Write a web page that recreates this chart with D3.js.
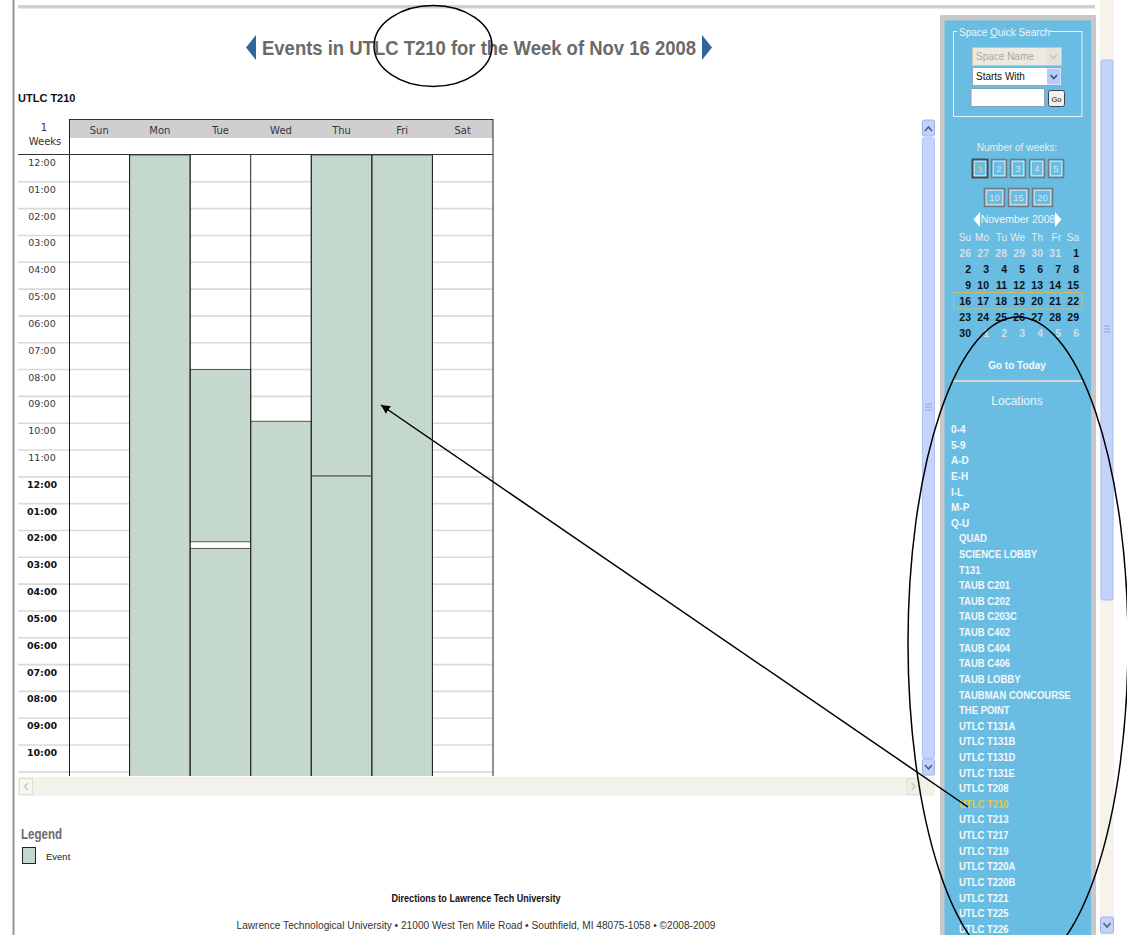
<!DOCTYPE html>
<html lang="en">
<head>
<meta charset="UTF-8">
<title>Events in UTLC T210 for the Week of Nov 16 2008</title>
<style>
  body { margin: 0; background: #fff; overflow: hidden; }
  svg { display: block; }
  text { font-family: "Liberation Sans", Arial, sans-serif; }
</style>
</head>
<body>
<div id="page"></div>
<script src="https://d3js.org/d3.v7.min.js"></script>
<script>
// week grid
const days = ["Sun", "Mon", "Tue", "Wed", "Thu", "Fri", "Sat"];
const hourLabels = ["12:00", "01:00", "02:00", "03:00", "04:00", "05:00", "06:00", "07:00",
  "08:00", "09:00", "10:00", "11:00", "12:00", "01:00", "02:00", "03:00", "04:00", "05:00",
  "06:00", "07:00", "08:00", "09:00", "10:00", "11:00"];

// booked events, hours after midnight
const eventDays   = ["Mon", "Tue", "Tue", "Wed", "Thu", "Thu", "Fri"];
const eventStarts = [0, 8, 14.67, 9.93, 0, 11.97, 0];
const eventEnds   = [24, 14.42, 24, 24, 11.97, 24, 24];

// sidebar
const weekButtons = ["1", "2", "3", "4", "5"];
const moreWeekButtons = ["10", "15", "20"];
const calDayNames = ["Su", "Mo", "Tu", "We", "Th", "Fr", "Sa"];
const prevMonthTail = [26, 27, 28, 29, 30, 31];
const monthLength = 30;
const nextMonthHead = [1, 2, 3, 4, 5, 6];
const locationGroups = ["0-4", "5-9", "A-D", "E-H", "I-L", "M-P", "Q-U"];
const locationRooms = ["QUAD", "SCIENCE LOBBY", "T131", "TAUB C201", "TAUB C202", "TAUB C203C",
  "TAUB C402", "TAUB C404", "TAUB C406", "TAUB LOBBY", "TAUBMAN CONCOURSE", "THE POINT",
  "UTLC T131A", "UTLC T131B", "UTLC T131D", "UTLC T131E", "UTLC T208", "UTLC T210",
  "UTLC T213", "UTLC T217", "UTLC T219", "UTLC T220A", "UTLC T220B", "UTLC T221",
  "UTLC T225", "UTLC T226"];
const currentRoom = "UTLC T210";

const W = 1127, H = 935;
const svg = d3.select("#page").append("svg").attr("width", W).attr("height", H);

// page frame
svg.append("line").attr("x1", 13.5).attr("x2", 13.5).attr("y1", 0).attr("y2", H)
  .attr("stroke", "#9a968a").attr("stroke-width", 2);
svg.append("rect").attr("x", 18).attr("y", 5).attr("width", 1077).attr("height", 3.5).attr("fill", "#d0d0d0");

// title
svg.append("text").attr("x", 262).attr("y", 55)
  .attr("textLength", 434).attr("lengthAdjust", "spacingAndGlyphs")
  .style("font-size", "20px").style("font-weight", "bold").attr("fill", "#6a6a6a")
  .text("Events in UTLC T210 for the Week of Nov 16 2008");
svg.append("path").attr("d", "M256,35 L246,47.5 L256,60 Z").attr("fill", "#2f679c");
svg.append("path").attr("d", "M702,35 L712,47.5 L702,60 Z").attr("fill", "#2f679c");

svg.append("text").attr("x", 18).attr("y", 102)
  .style("font-size", "11px").style("font-weight", "bold").attr("fill", "#111")
  .text("UTLC T210");

// scales
const x = d3.scaleBand().domain(days).range([69, 493]);
const y = d3.scaleLinear().domain([0, 24]).range([155, 155 + 24 * 26.82]);

// header
svg.append("rect").attr("x", 69).attr("y", 119).attr("width", 424).attr("height", 19).attr("fill", "#cfcfcf");
svg.append("line").attr("x1", 69).attr("x2", 493).attr("y1", 119.5).attr("y2", 119.5).attr("stroke", "#333");
svg.selectAll(".dayname").data(days).enter().append("text")
  .attr("x", d => x(d) + x.bandwidth() / 2).attr("y", 134)
  .attr("text-anchor", "middle").style("font-family", "DejaVu Sans").style("font-size", "10px")
  .attr("fill", "#3a3440").text(d => d);
svg.append("text").attr("x", 44).attr("y", 131).attr("text-anchor", "middle")
  .style("font-family", "DejaVu Sans").style("font-size", "10px").attr("fill", "#333").text("1");
svg.append("text").attr("x", 45).attr("y", 145).attr("text-anchor", "middle")
  .style("font-family", "DejaVu Sans").style("font-size", "10px").attr("fill", "#333").text("Weeks");

// grid body (clipped to the scroll box)
svg.append("clipPath").attr("id", "gridclip").append("rect")
  .attr("x", 0).attr("y", 155).attr("width", 921).attr("height", 621);
const grid = svg.append("g").attr("clip-path", "url(#gridclip)");

grid.selectAll(".row").data(d3.range(1, 25)).enter().append("line")
  .attr("x1", 18).attr("x2", 493).attr("y1", d => y(d)).attr("y2", d => y(d))
  .attr("stroke", "#dadada").attr("stroke-width", 1.6);

grid.selectAll(".hour").data(hourLabels).enter().append("text")
  .attr("x", 42).attr("y", (d, i) => y(i) + 11).attr("text-anchor", "middle")
  .style("font-family", "DejaVu Sans").style("font-size", "9.5px")
  .style("font-weight", (d, i) => i >= 12 ? "bold" : "normal")
  .attr("fill", (d, i) => i >= 12 ? "#111" : "#3a3440").text(d => d);

grid.selectAll(".event").data(eventDays).enter().append("rect")
  .attr("x", d => x(d)).attr("width", x.bandwidth())
  .attr("y", (d, i) => y(eventStarts[i])).attr("height", (d, i) => y(eventEnds[i]) - y(eventStarts[i]))
  .attr("fill", "#c5d8cd").attr("stroke", "#555").attr("stroke-width", 1);

grid.selectAll(".col").data(days.slice(1)).enter().append("line")
  .attr("x1", d => x(d)).attr("x2", d => x(d)).attr("y1", 155).attr("y2", 780)
  .attr("stroke", "#222");
svg.append("line").attr("x1", 69.5).attr("x2", 69.5).attr("y1", 119).attr("y2", 776).attr("stroke", "#222");
svg.append("line").attr("x1", 493).attr("x2", 493).attr("y1", 119).attr("y2", 776).attr("stroke", "#222");
svg.append("line").attr("x1", 18).attr("x2", 493).attr("y1", 154.5).attr("y2", 154.5).attr("stroke", "#333");

// inner vertical scrollbar
svg.append("rect").attr("x", 921.5).attr("y", 120).attr("width", 13.5).attr("height", 656).attr("fill", "#eef2fc");
svg.append("rect").attr("x", 922.5).attr("y", 138).attr("width", 12).attr("height", 620).attr("rx", 2)
  .attr("fill", "#c6d4fa").attr("stroke", "#adc1f3");
[404, 407, 410].forEach(v => svg.append("line").attr("x1", 925).attr("x2", 932).attr("y1", v).attr("y2", v).attr("stroke", "#8ea6e6"));
[[120, "M925,131 L928.5,127 L932,131"], [759, "M925,765 L928.5,769 L932,765"]].forEach(([by, p]) => {
  svg.append("rect").attr("x", 922.5).attr("y", by).attr("width", 12).attr("height", 16).attr("rx", 2)
    .attr("fill", "#c3d2fa").attr("stroke", "#9db2ea");
  svg.append("path").attr("d", p).attr("fill", "none").attr("stroke", "#4d5f86").attr("stroke-width", 1.6);
});
// inner horizontal scrollbar
svg.append("rect").attr("x", 18).attr("y", 777).attr("width", 917).attr("height", 19).attr("fill", "#f3f2ea");
svg.append("rect").attr("x", 19.5).attr("y", 778.5).attr("width", 13).attr("height", 16).attr("fill", "#f6f5ef").attr("stroke", "#e2dfd2");
svg.append("path").attr("d", "M28,783 L24.5,786.5 L28,790").attr("fill", "none").attr("stroke", "#c8c6bc").attr("stroke-width", 1.4);
svg.append("rect").attr("x", 907).attr("y", 778.5).attr("width", 13).attr("height", 16).attr("fill", "#f0efe6").attr("stroke", "#e2dfd2");
svg.append("path").attr("d", "M911.5,783 L915,786.5 L911.5,790").attr("fill", "none").attr("stroke", "#c8c6bc").attr("stroke-width", 1.4);

// legend
svg.append("text").attr("x", 21).attr("y", 839).style("font-size", "14px").style("font-weight", "bold")
  .attr("textLength", 41).attr("lengthAdjust", "spacingAndGlyphs").attr("fill", "#6a6a6a").text("Legend");
svg.append("rect").attr("x", 22.5).attr("y", 847.5).attr("width", 13).attr("height", 16)
  .attr("fill", "#c5d8cd").attr("stroke", "#222");
svg.append("text").attr("x", 46).attr("y", 860).style("font-size", "9.5px").attr("fill", "#222").text("Event");

// footer
svg.append("text").attr("x", 476).attr("y", 902).attr("text-anchor", "middle")
  .attr("textLength", 169).attr("lengthAdjust", "spacingAndGlyphs")
  .style("font-size", "10px").style("font-weight", "bold").attr("fill", "#111")
  .text("Directions to Lawrence Tech University");
svg.append("text").attr("x", 476).attr("y", 929).attr("text-anchor", "middle")
  .attr("textLength", 479).attr("lengthAdjust", "spacingAndGlyphs")
  .style("font-size", "10px").attr("fill", "#333")
  .text("Lawrence Technological University \u2022 21000 West Ten Mile Road \u2022 Southfield, MI 48075-1058 \u2022 \u00a92008-2009");

// sidebar
const side = svg.append("g");
const blue = "#69bde2";
side.append("rect").attr("x", 940).attr("y", 15).attr("width", 156).attr("height", 925).attr("fill", "#c8c8c8");
side.append("rect").attr("x", 944.5).attr("y", 20.5).attr("width", 146.5).attr("height", 920).attr("fill", blue);

// quick search
side.append("rect").attr("x", 953.5).attr("y", 31.5).attr("width", 128.5).attr("height", 85)
  .attr("fill", "none").attr("stroke", "#e6f3fa");
side.append("rect").attr("x", 957).attr("y", 26).attr("width", 92).attr("height", 12).attr("fill", blue);
const legendText = side.append("text").attr("x", 959).attr("y", 36).style("font-size", "10px").attr("fill", "#eef5f9");
legendText.append("tspan").text("Space ");
legendText.append("tspan").style("text-decoration", "underline").text("Q");
legendText.append("tspan").text("uick Search");

side.append("rect").attr("x", 972.5).attr("y", 47.5).attr("width", 89).attr("height", 18).attr("fill", "#ece9df").attr("stroke", "#c9c6bb");
side.append("text").attr("x", 976).attr("y", 60).style("font-size", "10px").attr("fill", "#a8a8a8").text("Space Name");
side.append("rect").attr("x", 1047).attr("y", 48.5).attr("width", 13.5).attr("height", 16).attr("fill", "#e4e2da");
side.append("path").attr("d", "M1050.5,55 L1053.8,58.5 L1057,55").attr("fill", "none").attr("stroke", "#c4c4c4").attr("stroke-width", 1.6);

side.append("rect").attr("x", 972.5).attr("y", 67.5).attr("width", 89).attr("height", 18).attr("fill", "#fff").attr("stroke", "#9aa6b8");
side.append("text").attr("x", 976).attr("y", 80).style("font-size", "10px").attr("fill", "#111").text("Starts With");
side.append("rect").attr("x", 1047).attr("y", 68.5).attr("width", 13.5).attr("height", 16).attr("fill", "#b8cbf6");
side.append("path").attr("d", "M1050.5,75 L1053.8,78.5 L1057,75").attr("fill", "none").attr("stroke", "#3c4e80").attr("stroke-width", 1.6);

side.append("rect").attr("x", 971).attr("y", 88.5).attr("width", 73.5).attr("height", 18).attr("fill", "#fff").attr("stroke", "#8ea0b4");
side.append("rect").attr("x", 1048.5).attr("y", 90.5).attr("width", 16).attr("height", 16).attr("rx", 2).attr("fill", "#f2f1ec").attr("stroke", "#38485c");
side.append("text").attr("x", 1056.5).attr("y", 101.5).attr("text-anchor", "middle").style("font-size", "7.5px").attr("fill", "#111").text("Go");

// number of weeks
side.append("text").attr("x", 1017).attr("y", 150.5).attr("text-anchor", "middle")
  .style("font-size", "10px").attr("fill", "#e4eef6").text("Number of weeks:");
function weekButton(label, bx, by, w, active) {
  side.append("rect").attr("x", bx + 0.5).attr("y", by + 0.5).attr("width", w).attr("height", 18)
    .attr("fill", blue).attr("stroke", active ? "#4a4a4a" : "#6f7b86").attr("stroke-width", active ? 2 : 1.6);
  side.append("rect").attr("x", bx + 2.2).attr("y", by + 2.2).attr("width", w - 3.4).attr("height", 14.6)
    .attr("fill", "none").attr("stroke", "#e4f1f8").attr("stroke-width", 0.9);
  side.append("text").attr("x", bx + w / 2 + 0.5).attr("y", by + 13).attr("text-anchor", "middle")
    .style("font-size", "9.5px").style("font-weight", active ? "bold" : "normal")
    .attr("fill", active ? "#e8c646" : "#d9e4ec").text(label);
}
const wbX = d3.scaleLinear().domain([0, 4]).range([972, 1048]);
weekButtons.forEach((b, i) => weekButton(b, wbX(i), 159, 15, i === 0));
const wbX2 = d3.scaleLinear().domain([0, 2]).range([984, 1032]);
moreWeekButtons.forEach((b, i) => weekButton(b, wbX2(i), 188, 20, false));

// mini calendar
side.append("path").attr("d", "M980,212 L973.5,219.5 L980,227 Z").attr("fill", "#fff");
side.append("path").attr("d", "M1055,212 L1061.5,219.5 L1055,227 Z").attr("fill", "#fff");
side.append("text").attr("x", 1018).attr("y", 223).attr("text-anchor", "middle")
  .style("font-size", "10.5px").attr("fill", "#eef5f9").text("November 2008");
const calX = d3.scaleLinear().domain([0, 6]).range([971, 1079]);
const calY = d3.scaleLinear().domain([0, 5]).range([253.3, 333.3]);
side.selectAll(".cdn").data(calDayNames).enter().append("text")
  .attr("x", (d, i) => calX(i)).attr("y", 241).attr("text-anchor", "end")
  .style("font-size", "10px").attr("fill", "#e2edf4").text(d => d);
const calCells = [
  ...prevMonthTail.map(d => ({ d, other: true })),
  ...d3.range(1, monthLength + 1).map(d => ({ d, other: false })),
  ...nextMonthHead.map(d => ({ d, other: true }))
];
side.append("rect").attr("x", 953.5).attr("y", 292.5).attr("width", 128.5).attr("height", 16.5)
  .attr("fill", "none").attr("stroke", "#d0bb62");
side.selectAll(".cd").data(calCells).enter().append("text")
  .attr("x", (d, i) => calX(i % 7)).attr("y", (d, i) => calY(Math.floor(i / 7)) + 3.8)
  .attr("text-anchor", "end").style("font-size", "10.5px").style("font-weight", "bold")
  .attr("fill", d => d.other ? "#d3dde5" : "#0e1216").text(d => d.d);

side.append("text").attr("x", 1017).attr("y", 368.5).attr("text-anchor", "middle")
  .style("font-size", "10px").style("font-weight", "bold").attr("fill", "#f4f8fb").text("Go to Today");
side.append("line").attr("x1", 953).attr("x2", 1082).attr("y1", 381).attr("y2", 381)
  .attr("stroke", "#d9d6d0").attr("stroke-width", 2);
side.append("text").attr("x", 1017).attr("y", 405).attr("text-anchor", "middle")
  .style("font-size", "12px").attr("fill", "#f0f6fa").text("Locations");

// locations list
const locY = d3.scaleLinear().domain([0, locationGroups.length + locationRooms.length - 1]).range([429.3, 929]);
side.selectAll(".lg").data(locationGroups).enter().append("text")
  .attr("x", 951).attr("y", (d, i) => locY(i) + 3.8)
  .style("font-size", "10px").style("font-weight", "bold").attr("fill", "#f4f8fb").text(d => d);
side.selectAll(".lr").data(locationRooms).enter().append("text")
  .attr("x", 959).attr("y", (d, i) => locY(i + locationGroups.length) + 3.8)
  .style("font-size", "10px").style("font-weight", "bold").attr("transform-origin", "959px 0")
  .attr("fill", d => d === currentRoom ? "#e6c24c" : "#f4f8fb").text(d => d)
  .each(function() {
    // squeeze long names to the narrow Tahoma width of the original
    const w = this.getComputedTextLength();
    d3.select(this).attr("textLength", w * 0.95).attr("lengthAdjust", "spacingAndGlyphs");
  });

// page scrollbar
svg.append("rect").attr("x", 1100).attr("y", 0).attr("width", 14).attr("height", H).attr("fill", "#f5f3ea");
svg.append("rect").attr("x", 1101).attr("y", 60).attr("width", 12).attr("height", 540).attr("rx", 2)
  .attr("fill", "#c3d3fa").attr("stroke", "#a9bdf2");
[326, 329, 332].forEach(v => svg.append("line").attr("x1", 1104).attr("x2", 1110).attr("y1", v).attr("y2", v).attr("stroke", "#8ea6e6"));
svg.append("rect").attr("x", 1100.5).attr("y", 917).attr("width", 13).attr("height", 16).attr("rx", 2)
  .attr("fill", "#c3d2fa").attr("stroke", "#9db2ea");
svg.append("path").attr("d", "M1103.5,923 L1107,927 L1110.5,923").attr("fill", "none").attr("stroke", "#4d5f86").attr("stroke-width", 1.6);

// annotations
const ann = svg.append("g").attr("fill", "none").attr("stroke", "#000").attr("stroke-width", 1.5);
ann.append("ellipse").attr("cx", 433).attr("cy", 46).attr("rx", 59).attr("ry", 40.5);
ann.append("ellipse").attr("cx", 1018).attr("cy", 643).attr("rx", 110).attr("ry", 326);
svg.append("defs").append("marker").attr("id", "head").attr("viewBox", "0 0 10 10")
  .attr("refX", 10).attr("refY", 5).attr("markerWidth", 9).attr("markerHeight", 9)
  .attr("markerUnits", "userSpaceOnUse").attr("orient", "auto")
  .append("path").attr("d", "M0,0 L10,5 L0,10 Z").attr("fill", "#000");
ann.append("line").attr("x1", 968).attr("y1", 807).attr("x2", 381).attr("y2", 405)
  .attr("marker-end", "url(#head)");
</script>
</body>
</html>
